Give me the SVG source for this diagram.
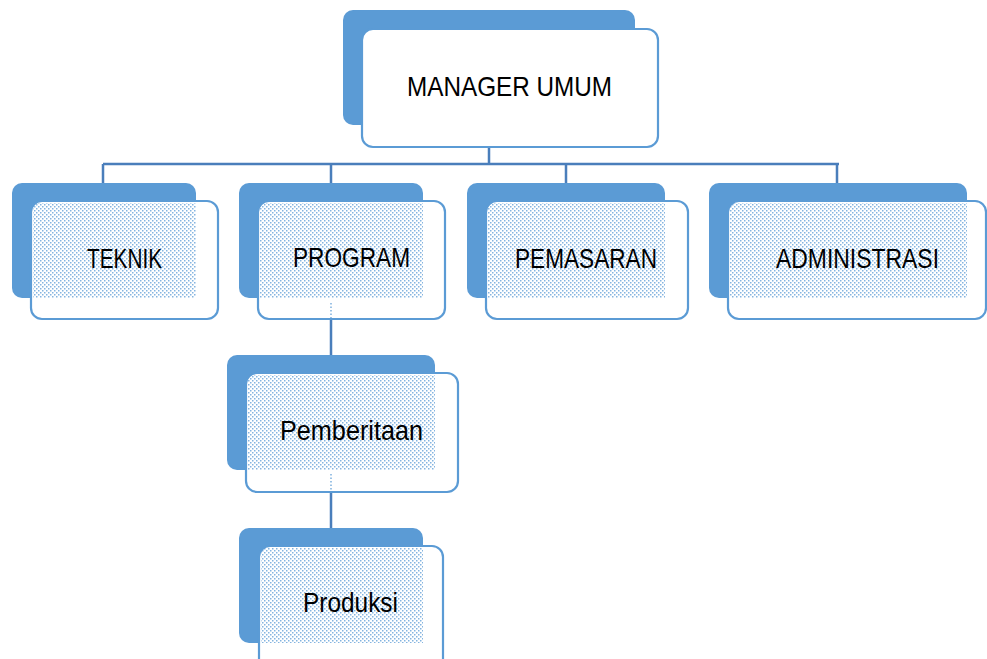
<svg xmlns="http://www.w3.org/2000/svg" width="987" height="659" viewBox="0 0 987 659">
<defs>
<pattern id="dots" width="4" height="4" patternUnits="userSpaceOnUse">
<rect x="0" y="0" width="1.5" height="1.5" fill="#5B9BD5" fill-opacity="0.75"/>
<rect x="2" y="2" width="1.5" height="1.5" fill="#5B9BD5" fill-opacity="0.75"/>
</pattern>
<style>
.back{fill:#5B9BD5;}
.front{fill:#ffffff;stroke:#5B9BD5;stroke-width:2.2;}
.pat{fill:url(#dots);}
.lbl{font-family:"Liberation Sans",Arial,sans-serif;font-size:27.5px;fill:#000000;}
.conn{stroke:#4A7EBB;stroke-width:2.5;fill:none;}
.inner{stroke:#5B9BD5;stroke-width:1.2;stroke-dasharray:1.5 2;fill:none;}
</style>
</defs>
<rect width="987" height="659" fill="#ffffff"/>
<g id="connectors">
<path class="conn" d="M489,147 V164 M103,164 H839 M103,164 V183 M331,164 V183 M566,164 V183 M837,164 V183 M331,319 V355 M331,492 V528"/>
</g>
<g id="manager">
<rect class="back" x="343" y="10" width="292" height="115" rx="10"/>
<rect class="front" x="362" y="29" width="296" height="118" rx="11"/>
<text class="lbl" x="407" y="96" textLength="205" lengthAdjust="spacingAndGlyphs">MANAGER UMUM</text>
</g>
<g id="teknik">
<rect class="back" x="12" y="183" width="184" height="115" rx="10"/>
<rect class="front" x="31" y="201" width="187" height="118" rx="11"/>
<rect class="pat" x="33" y="203" width="163" height="95"/>
<text class="lbl" x="87" y="268" textLength="75" lengthAdjust="spacingAndGlyphs">TEKNIK</text>
</g>
<g id="program">
<rect class="back" x="239" y="183" width="184" height="115" rx="10"/>
<rect class="front" x="258" y="201" width="187" height="118" rx="11"/>
<rect class="pat" x="260" y="203" width="163" height="95"/>
<path class="inner" d="M331,303 V318"/>
<text class="lbl" x="293" y="267" textLength="117" lengthAdjust="spacingAndGlyphs">PROGRAM</text>
</g>
<g id="pemasaran">
<rect class="back" x="467" y="183" width="198" height="115" rx="10"/>
<rect class="front" x="486" y="201" width="202" height="118" rx="11"/>
<rect class="pat" x="488" y="203" width="177" height="95"/>
<text class="lbl" x="515" y="268" textLength="142" lengthAdjust="spacingAndGlyphs">PEMASARAN</text>
</g>
<g id="administrasi">
<rect class="back" x="709" y="183" width="258" height="115" rx="10"/>
<rect class="front" x="728" y="201" width="258" height="118" rx="11"/>
<rect class="pat" x="730" y="203" width="237" height="95"/>
<text class="lbl" x="776" y="268" textLength="163" lengthAdjust="spacingAndGlyphs">ADMINISTRASI</text>
</g>
<g id="pemberitaan">
<rect class="back" x="227" y="355" width="208" height="115" rx="10"/>
<rect class="front" x="246" y="373" width="212" height="119" rx="11"/>
<rect class="pat" x="248" y="375" width="187" height="95"/>
<path class="inner" d="M331,474 V491"/>
<text class="lbl" x="280" y="440" textLength="143" lengthAdjust="spacingAndGlyphs">Pemberitaan</text>
</g>
<g id="produksi">
<rect class="back" x="239" y="528" width="184" height="115" rx="10"/>
<rect class="front" x="259" y="546" width="184" height="130" rx="11"/>
<rect class="pat" x="261" y="548" width="162" height="95"/>
<text class="lbl" x="303" y="612" textLength="95" lengthAdjust="spacingAndGlyphs">Produksi</text>
</g>
</svg>
